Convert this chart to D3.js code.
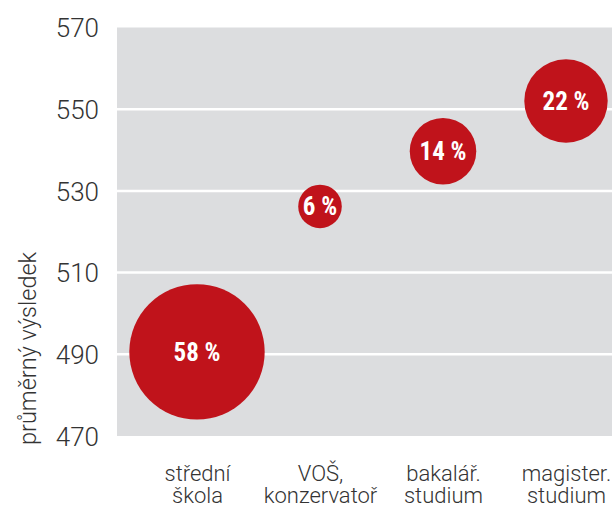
<!DOCTYPE html>
<html lang="cs">
<head>
<meta charset="UTF-8">
<title>Průměrný výsledek podle vzdělání</title>
<script src="https://d3js.org/d3.v7.min.js"></script>
<style>
  body { margin: 0; background: #fff; }
  svg { display: block; }
  .tick text { font-family: Roboto, sans-serif; font-weight: 300; fill: #333; }
</style>
</head>
<body>
<div id="chart"></div>
<script>
// data
const categories = ["střední\nškola", "VOŠ,\nkonzervatoř", "bakalář.\nstudium", "magister.\nstudium"];
const scores = [490.6, 526.2, 539.7, 552.0];
const shares = [58, 6, 14, 22];
const yTicks = [470, 490, 510, 530, 550, 570];
const yTitle = "průměrný výsledek";

const width = 612, height = 508;
const margin = { top: 27.5, right: 0, bottom: 72, left: 117 };

const svg = d3.select("#chart").append("svg")
  .attr("width", width)
  .attr("height", height);

const y = d3.scaleLinear()
  .domain([470, 570])
  .range([height - margin.bottom, margin.top]);

const x = d3.scalePoint()
  .domain(categories)
  .range([margin.left + 80, width - margin.right - 46]);

const r = d3.scaleSqrt()
  .domain([0, 58])
  .range([0, 67.7]);

// plot background
svg.append("rect")
  .attr("x", margin.left)
  .attr("y", margin.top)
  .attr("width", width - margin.right - margin.left)
  .attr("height", height - margin.bottom - margin.top)
  .attr("fill", "#dcdddf");

// gridlines
svg.append("g")
  .selectAll("line")
  .data(yTicks.filter(t => t > 470 && t < 570))
  .join("line")
  .attr("x1", margin.left)
  .attr("x2", width - margin.right)
  .attr("y1", d => y(d))
  .attr("y2", d => y(d))
  .attr("stroke", "#fff")
  .attr("stroke-width", 2.5);

// y axis
const yAxis = svg.append("g")
  .attr("transform", `translate(${margin.left - 18},0)`)
  .call(d3.axisLeft(y).tickValues(yTicks).tickSize(0).tickPadding(0));
yAxis.select(".domain").remove();
yAxis.selectAll("text").attr("font-size", 26).attr("dy", "0.36em");

svg.append("text")
  .attr("transform", "translate(36,445) rotate(-90)")
  .attr("font-family", "Roboto, sans-serif")
  .attr("font-weight", 300)
  .attr("font-size", 23.5)
  .attr("fill", "#333")
  .attr("text-anchor", "start")
  .text(yTitle);

// x axis (category labels, two lines each)
const xAxis = svg.append("g")
  .attr("transform", `translate(0,${height - margin.bottom})`)
  .call(d3.axisBottom(x).tickSize(0).tickPadding(0).tickFormat(d => d.split("\n")[0]));
xAxis.select(".domain").remove();
xAxis.selectAll(".tick text")
  .attr("font-size", 22)
  .attr("y", 45)
  .attr("dy", null);
xAxis.selectAll(".tick")
  .append("text")
  .attr("fill", "#333")
  .attr("font-size", 22)
  .attr("text-anchor", "middle")
  .attr("y", 67)
  .text(d => d.split("\n")[1]);

// bubbles
const bubbles = svg.append("g")
  .selectAll("g")
  .data(categories.map((c, i) => ({ cat: c, score: scores[i], share: shares[i] })))
  .join("g")
  .attr("transform", d => `translate(${x(d.cat)},${y(d.score)})`);

bubbles.append("circle")
  .attr("r", d => r(d.share))
  .attr("fill", "#c0131b");

bubbles.append("text")
  .attr("text-anchor", "middle")
  .attr("dy", "0.36em")
  .attr("font-family", "'Liberation Sans Narrow', 'Roboto Condensed', Roboto, sans-serif")
  .attr("font-weight", "bold")
  .attr("font-size", 25)
  .attr("fill", "#fff")
  .text(d => `${d.share} %`);
</script>
</body>
</html>
